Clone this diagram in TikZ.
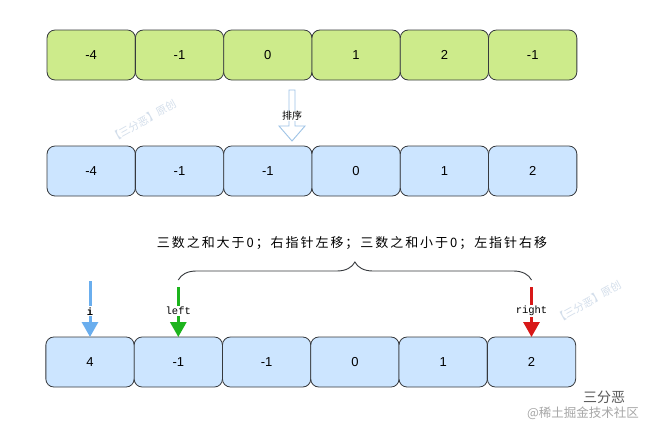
\documentclass[tikz,border=0pt]{standalone}
\usepackage{fontspec}
\setmainfont{Liberation Sans}
\newfontfamily\cjk[LetterSpace=15]{Noto Sans CJK SC}
\newfontfamily\cjkplain{Noto Sans CJK SC}
\newfontfamily\monolbl{Liberation Mono}
\usetikzlibrary{arrows.meta,decorations.pathreplacing,positioning,calc}
\definecolor{cellgreen}{HTML}{CDEB8B}
\definecolor{cellblue}{HTML}{CCE5FF}
\definecolor{cellline}{HTML}{36393D}
\definecolor{ptrblue}{HTML}{6AAEEE}
\definecolor{ptrgreen}{HTML}{1DB41D}
\definecolor{ptrred}{HTML}{D81818}
\definecolor{sortline}{HTML}{9EC3E6}
\definecolor{wmtext}{HTML}{D3DEEB}

\begin{document}
\begin{tikzpicture}[x=1pt,y=-1pt,
  cell/.style={draw=cellline,line width=0.8pt,rounded corners=8pt,minimum width=88.3pt,
    minimum height=50pt,inner sep=0pt,outer sep=0pt,font=\fontsize{13}{13}\selectfont},
  raw/.style={cell,fill=cellgreen},
  sorted/.style={cell,fill=cellblue},
  ptr/.style={line width=3pt,-{Triangle[width=16pt,length=15pt]}},
  ptrlabel/.style={fill=white,text=black,inner sep=1pt,font=\monolbl\fontsize{10.5}{10.5}\selectfont},
  wmark/.style={text=wmtext,font=\cjkplain\fontsize{10.5}{10.5}\selectfont,inner sep=0pt}]
  \useasboundingbox[fill=white] (0,0) rectangle (648,426);

  % input array
  \node[raw] (a1) at (91.2,55) {-4};
  \node[raw,right=0pt of a1] (a2) {-1};
  \node[raw,right=0pt of a2] (a3) {0};
  \node[raw,right=0pt of a3] (a4) {1};
  \node[raw,right=0pt of a4] (a5) {2};
  \node[raw,right=0pt of a5] (a6) {-1};

  % sorted array
  \node[sorted] (b1) at (91.2,171) {-4};
  \node[sorted,right=0pt of b1] (b2) {-1};
  \node[sorted,right=0pt of b2] (b3) {-1};
  \node[sorted,right=0pt of b3] (b4) {0};
  \node[sorted,right=0pt of b4] (b5) {1};
  \node[sorted,right=0pt of b5] (b6) {2};

  % sort arrow
  \draw[sortline,fill=white,line width=0.9pt] (289,90) -- (295,90) -- (295,126) -- (305,126)
     -- (292,141) -- (279,126) -- (289,126) -- cycle;
  \node[fill=white,inner sep=0.5pt,font=\cjkplain\fontsize{10}{10}\selectfont] (sortlbl) at (292,116) {排序};

  % pointers
  \node[sorted] (c1) at (90,362) {4};
  \node[sorted,right=0pt of c1] (c2) {-1};
  \node[sorted,right=0pt of c2] (c3) {-1};
  \node[sorted,right=0pt of c3] (c4) {0};
  \node[sorted,right=0pt of c4] (c5) {1};
  \node[sorted,right=0pt of c5] (c6) {2};

  \coordinate (itop) at ($(c1.north)+(0,-56)$);
  \coordinate (ltop) at ($(c2.north)+(0,-50)$);
  \coordinate (rtop) at ($(c6.north)+(0,-50)$);
  \coordinate (bl) at ($(c2.north)+(0,-57)$);
  \coordinate (br) at ($(c6.north)+(0,-57)$);

  \draw[ptr,ptrblue] (itop) -- node[ptrlabel,pos=0.54] (ilbl) {\textbf{i}} (c1.north);
  \draw[ptr,ptrgreen] (ltop) -- node[ptrlabel,pos=0.48] (llbl) {left} (c2.north);
  \draw[ptr,ptrred] (rtop) -- node[ptrlabel,pos=0.48] (rlbl) {right} (c6.north);

  \draw[cellline,line width=0.9pt,decorate,decoration={brace,amplitude=18pt}] (bl) -- (br);
  \node[font=\cjk\fontsize{13}{13}\selectfont] (rule) at (352,243)
    {三数之和大于0；右指针左移；三数之和小于0；左指针右移};

  % watermarks
  \node[wmark,rotate=29] (wm1) at (143,121) {【三分恶】原创};
  \node[wmark,rotate=29] (wm2) at (588,302) {【三分恶】原创};
  \node[text=black!65,font=\cjkplain\fontsize{14}{14}\selectfont] (wm3) at (604,397) {三分恶};
  \node[text=black!35,font=\cjkplain\fontsize{12.5}{12.5}\selectfont] (wm4) at (583,413) {@稀土掘金技术社区};
\end{tikzpicture}
\end{document}
